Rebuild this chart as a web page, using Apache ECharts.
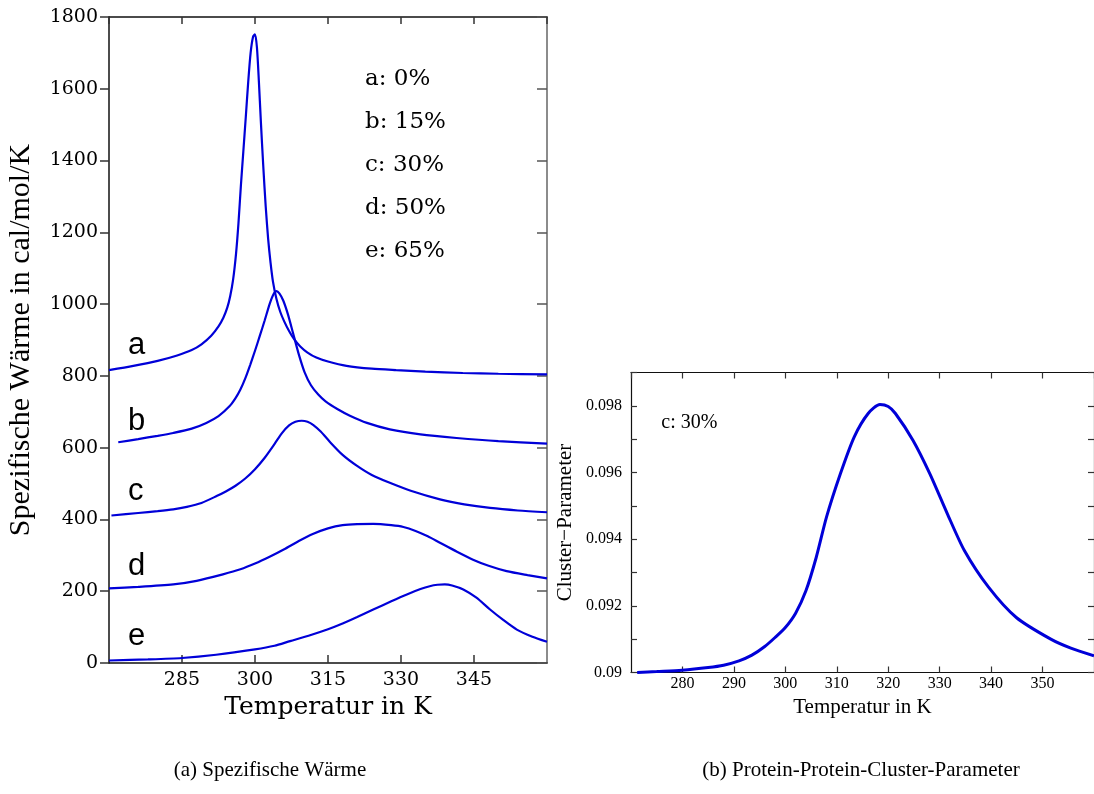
<!DOCTYPE html>
<html>
<head>
<meta charset="utf-8">
<script src="https://cdn.jsdelivr.net/npm/echarts@6/dist/echarts.min.js"></script>
<style>
html,body{margin:0;padding:0;background:#fff;}
#chart{width:1094px;height:794px;}
</style>
</head>
<body>
<div id="chart"></div>
<script>
// ---------- data (temperature in K, value) ----------
const curveA = [[270,816],[275,828],[280,842],[284,857],[287,872],[289,888],[291,912],[292.5,938],[293.5,962],[294.3,990],[294.9,1022],[295.5,1068],[296.1,1140],[296.6,1225],[297.1,1330],[297.6,1425],[298.1,1520],[298.6,1618],[299.1,1700],[299.6,1745],[300,1752],[300.4,1715],[300.8,1620],[301.2,1510],[301.7,1384],[302.2,1272],[302.7,1182],[303.2,1115],[303.7,1062],[304.4,1015],[305.2,978],[306,952],[307,925],[308,903],[309.3,882],[310.8,865],[312.6,851],[315,840],[318.8,828],[324,820],[329,816],[335,812],[342.7,808],[350,806],[360,804]];
const curveB = [[271.9,615],[276,624],[280,633],[283.2,641],[287,653],[290,669],[292.5,688],[294.8,716],[296,738],[297,762],[298,793],[299,830],[300,870],[301,912],[302,955],[303,1000],[303.7,1025],[304.4,1036],[305,1030],[305.8,1010],[306.8,970],[307.8,920],[309,860],[310.2,810],[311.5,774],[313,748],[314.5,729],[317,707],[319.5,689],[323,669],[327.7,651],[334,637],[341.4,627],[350,618],[360,611]];
const curveC = [[270.5,411],[276,418],[280,423],[283.2,428],[286,435],[289,446],[292.1,465],[294,478],[296,494],[298,514],[300,540],[302,572],[304,610],[305.5,640],[307,662],[308.3,672],[309.6,675],[310.8,672],[312,663],[313.5,645],[315.4,616],[318,580],[320.9,550],[324,524],[327.7,502],[332,480],[338,456],[343,442],[348.3,432],[354,425],[360,420]];
const curveD = [[270,208],[276,212],[283.2,219],[288,229],[293.4,247],[297,261],[300,277],[303,296],[306,317],[309,340],[312,360],[315,375],[318,384],[321,387],[324.3,387.5],[328,384],[330.5,379],[333,368],[335.5,353],[338,335],[341.5,310],[344.8,288],[348,271],[351.7,256],[356,245],[360,236]];
const curveE = [[270,7],[278,10],[285,14],[292,23],[300,38],[304,48],[307.2,61],[311,76],[315,94],[318,110],[321,128],[324.3,149],[328,172],[331.2,191],[334,206],[335.9,214],[337.5,218],[339,219],[340.5,216],[342.8,205],[345.5,182],[348.3,149],[351,120],[353.8,93],[357,73],[360,59]];
const clusterC = [[271.2,0.0900],[275,0.09003],[279.9,0.09007],[285,0.09015],[288,0.09022],[291,0.09035],[293.5,0.09052],[296,0.09078],[298,0.09105],[300,0.09135],[302,0.09178],[304,0.09245],[306,0.09345],[308,0.09466],[310.7,0.09596],[313.4,0.09707],[316.1,0.09777],[318.4,0.09804],[320,0.09798],[321.4,0.09777],[324.8,0.09697],[328.1,0.09596],[331.5,0.09476],[334.8,0.09366],[339.5,0.09256],[344.9,0.09165],[351.6,0.0910],[355.5,0.09073],[360,0.0905]];

const curveLetters = ['a','b','c','d','e'];
const letterAnchors = [[273.9,885],[273.9,674],[273.9,479],[273.9,268],[273.9,73]];
const legendTexts = ['a: 0%','b: 15%','c: 30%','d: 50%','e: 65%'];
const legendAnchors = [[322.6,1628],[322.6,1508],[322.6,1388],[322.6,1268],[322.6,1148]];
const clusterNote = 'c: 30%';
const clusterNoteAnchor = [275.9,0.0975];

const xNameLeft = 'Temperatur in K';
const yNameLeft = 'Spezifische Wärme in cal/mol/K';
const xNameRight = 'Temperatur in K';
const yNameRight = 'Cluster\u2212Parameter';
const captionA = '(a) Spezifische Wärme';
const captionB = '(b) Protein-Protein-Cluster-Parameter';

// ---------- styles ----------
const BLUE = '#0000d8';
const SERIF_W = "'DejaVu Serif', serif";
const SERIF = "'Liberation Serif', 'Times New Roman', serif";
const SANS = "'Liberation Sans', Arial, sans-serif";

const chart = echarts.init(document.getElementById('chart'), null, {renderer:'canvas'});

function lineSeries(data, xi, yi, width){
  return {type:'line', xAxisIndex:xi, yAxisIndex:yi, data:data, showSymbol:false,
    smooth:0.25, lineStyle:{color:BLUE, width:width}, itemStyle:{color:BLUE}, silent:true, z:3};
}
function textSeries(items, xi, yi, font, size){
  return {type:'scatter', xAxisIndex:xi, yAxisIndex:yi, symbolSize:0, silent:true, z:5,
    itemStyle:{opacity:1},
    data: items,
    label:{show:true, position:'right', distance:0, formatter:'{b}', color:'#000', opacity:1, fontFamily:font, fontSize:size, align:'left', verticalAlign:'middle'}};
}
function frameAxis(extra){
  return Object.assign({type:'value', axisLabel:{show:false}, splitLine:{show:false}}, extra);
}

const option = {
  animation:false,
  backgroundColor:'#fff',
  grid:[
    {left:109, top:17, width:438, height:646},
    {left:631, top:372.5, width:465, height:300}
  ],
  xAxis:[
    {gridIndex:0, type:'value', position:'bottom', min:270, max:360, interval:15,
      name:xNameLeft, nameLocation:'middle', nameGap:27, nameTextStyle:{fontFamily:SERIF_W, fontSize:25, color:'#000'},
      axisLine:{show:true, onZero:false, lineStyle:{color:'#111', width:1.5}},
      axisTick:{show:true, inside:true, length:8, lineStyle:{color:'#333', width:1.5}},
      axisLabel:{show:true, margin:8, showMinLabel:false, showMaxLabel:false, fontFamily:SERIF_W, fontSize:19, color:'#000',
        formatter:function(v){ return String(v); }},
      splitLine:{show:false}},
    frameAxis({gridIndex:0, position:'top', min:270, max:360, interval:15,
      axisLine:{show:true, onZero:false, lineStyle:{color:'#111', width:1.5}},
      axisTick:{show:true, inside:true, length:7, lineStyle:{color:'#333', width:1.5}}}),
    {gridIndex:1, type:'value', position:'bottom', min:270, max:360, interval:10,
      name:xNameRight, nameLocation:'middle', nameGap:24, nameTextStyle:{fontFamily:SERIF, fontSize:21, color:'#000'},
      axisLine:{show:true, onZero:false, lineStyle:{color:'#111', width:1.2}},
      axisTick:{show:true, inside:true, length:6, lineStyle:{color:'#333', width:1.2}},
      axisLabel:{show:true, margin:3, showMinLabel:false, showMaxLabel:false, fontFamily:SERIF, fontSize:16, color:'#000',
        formatter:function(v){ return String(v); }},
      splitLine:{show:false}},
    frameAxis({gridIndex:1, position:'top', min:270, max:360, interval:10,
      axisLine:{show:true, onZero:false, lineStyle:{color:'#111', width:1.2}},
      axisTick:{show:true, inside:true, length:6, lineStyle:{color:'#333', width:1.2}}})
  ],
  yAxis:[
    {gridIndex:0, type:'value', position:'left', min:0, max:1800, interval:200,
      name:yNameLeft, nameLocation:'middle', nameGap:73, nameRotate:90,
      nameTextStyle:{fontFamily:SERIF, fontSize:30, color:'#000'},
      axisLine:{show:true, onZero:false, lineStyle:{color:'#111', width:1.5}},
      axisTick:{show:true, inside:false, length:9, lineStyle:{color:'#333', width:1.5}},
      axisLabel:{show:true, margin:11, fontFamily:SERIF_W, fontSize:19, color:'#000',
        formatter:function(v){ return String(v); }},
      splitLine:{show:false}},
    frameAxis({gridIndex:0, position:'right', min:0, max:1800, interval:200,
      axisLine:{show:true, onZero:false, lineStyle:{color:'#666', width:1.5}},
      axisTick:{show:true, inside:true, length:10, lineStyle:{color:'#555', width:1.5}}}),
    {gridIndex:1, type:'value', position:'left', min:0.09, max:0.099, interval:0.001,
      name:yNameRight, nameLocation:'middle', nameGap:55, nameRotate:90,
      nameTextStyle:{fontFamily:SERIF, fontSize:21, color:'#000'},
      axisLine:{show:true, onZero:false, lineStyle:{color:'#111', width:1.2}},
      axisTick:{show:true, inside:true, length:6, lineStyle:{color:'#333', width:1.2}},
      axisLabel:{show:true, margin:9, fontFamily:SERIF, fontSize:16, color:'#000',
        formatter:function(v){ const k = Math.round(v*1000); if (k % 2 !== 0) return ''; return k===90 ? '0.09' : (k/1000).toFixed(3); }},
      splitLine:{show:false}},
    frameAxis({gridIndex:1, position:'right', min:0.09, max:0.099, interval:0.001,
      axisLine:{show:true, onZero:false, lineStyle:{color:'#111', width:1.2}},
      axisTick:{show:true, inside:true, length:6, lineStyle:{color:'#333', width:1.2}}})
  ],
  series:[
    lineSeries(curveA,0,0,2.2),
    lineSeries(curveB,0,0,2.2),
    lineSeries(curveC,0,0,2.2),
    lineSeries(curveD,0,0,2.2),
    lineSeries(curveE,0,0,2.2),
    lineSeries(clusterC,2,2,3),
    textSeries(curveLetters.map((n,i)=>({name:n, value:letterAnchors[i]})),0,0,SANS,31),
    textSeries(legendTexts.map((n,i)=>({name:n, value:legendAnchors[i]})),0,0,SERIF_W,23),
    textSeries([{name:clusterNote, value:clusterNoteAnchor}],2,2,SERIF,20)
  ],
  graphic:[
    {type:'text', x:270, y:770, style:{text:captionA, fontFamily:SERIF, fontSize:21, fill:'#000', align:'center', verticalAlign:'middle'}},
    {type:'text', x:861, y:770, style:{text:captionB, fontFamily:SERIF, fontSize:21, fill:'#000', align:'center', verticalAlign:'middle'}}
  ]
};
chart.setOption(option);
</script>
</body>
</html>
